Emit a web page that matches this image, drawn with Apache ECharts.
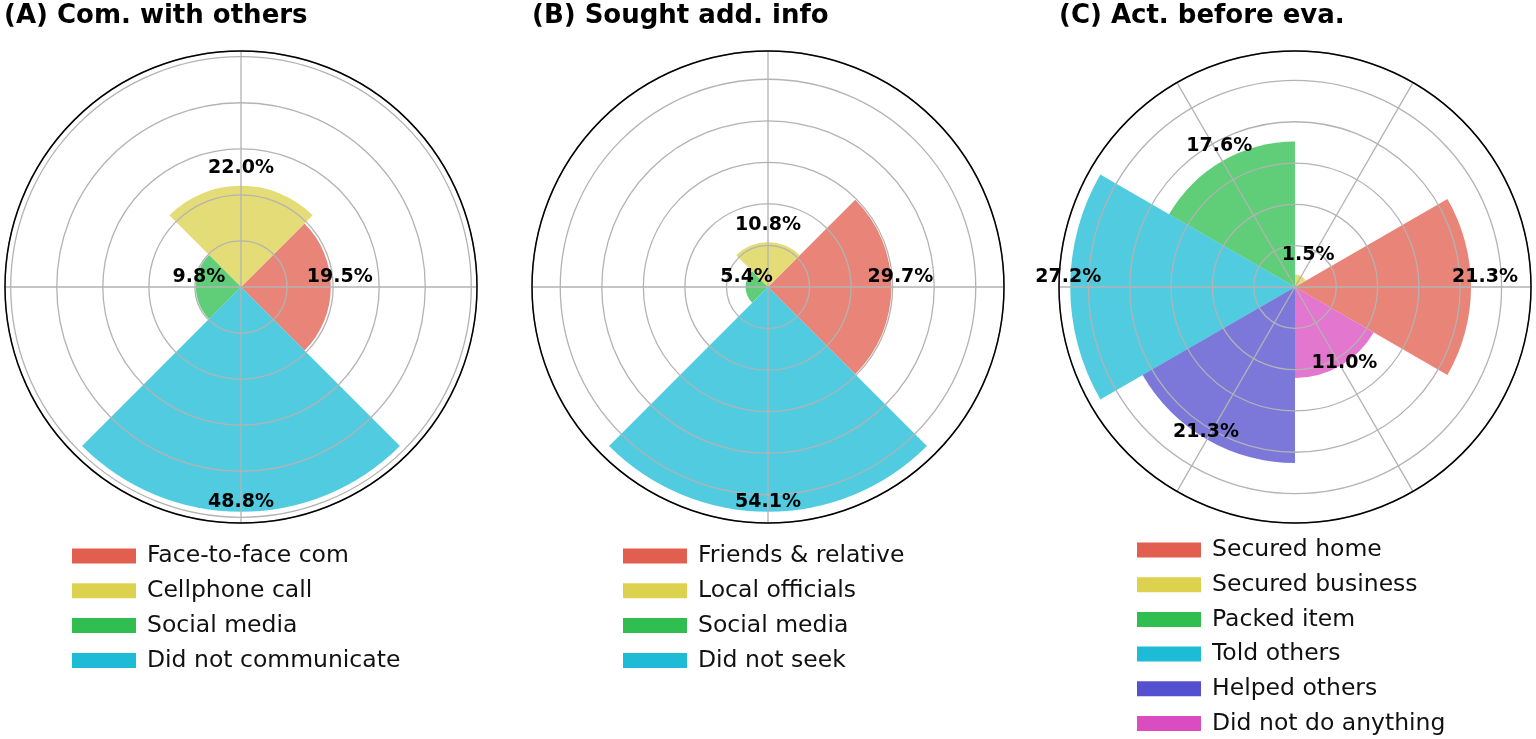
<!DOCTYPE html>
<html lang="en">
<head>
  <meta charset="UTF-8">
  <title>polar bars</title>
  <script src="https://cdn.jsdelivr.net/npm/echarts@6/dist/echarts.min.js"></script>
  <style>
    html, body { margin: 0; padding: 0; background: #fff; }
    #main { width: 1536px; height: 739px; }
  </style>
</head>
<body>
<div id="main"></div>
<script type="text/javascript">
  // panel A - Com. with others
  var catA = ['Face-to-face com', 'Cellphone call', 'Social media', 'Did not communicate'];
  var valA = [19.5, 22.0, 9.8, 48.8];
  // panel B - Sought add. info
  var catB = ['Friends & relative', 'Local officials', 'Social media', 'Did not seek'];
  var valB = [29.7, 10.8, 5.4, 54.1];
  // panel C - Act. before eva.
  var catC = ['Secured home', 'Secured business', 'Packed item', 'Told others', 'Helped others', 'Did not do anything'];
  var valC = [21.3, 1.5, 17.6, 27.2, 21.3, 11.0];

  // legend colours (solid) and bar colours (same, lighter)
  var solidC = ['#E25F4F', '#DCD24E', '#30BE50', '#1DBBD6', '#5450CF', '#DA4DC0'];
  var barC = ['rgba(226,95,79,0.77)', 'rgba(220,210,78,0.77)', 'rgba(48,190,80,0.77)',
              'rgba(29,187,214,0.77)', 'rgba(84,80,207,0.77)', 'rgba(218,77,192,0.77)'];

  var panels = [
    {title: '(A) Com. with others', cats: catA, vals: valA, max: 51.24, step: 10, spoke: 90,
      center: [241, 287], titleLeft: 4, legendLeft: 72, legendTop: 544, legendGap: 10.8, dist: [9, 8, -3, 0]},
    {title: '(B) Sought add. info', cats: catB, vals: valB, max: 56.8, step: 10, spoke: 90,
      center: [768, 287], titleLeft: 532, legendLeft: 623, legendTop: 544, legendGap: 10.8, dist: [9, 8, -1, 0]},
    {title: '(C) Act. before eva.', cats: catC, vals: valC, max: 28.56, step: 5, spoke: 60,
      center: [1295, 287], titleLeft: 1059, legendLeft: 1137, legendTop: 538, legendGap: 10.7, dist: [14, 14, 6, 2, 2, 8]}
  ];

  var FONT = 'DejaVu Sans';
  var GRID = {color: '#b3b3b3', width: 1.3};
  var option = {
    backgroundColor: '#fff',
    animation: false,
    title: [], legend: [], polar: [], angleAxis: [], radiusAxis: [], series: []
  };

  var n = panels.length;
  // polars 0..2 hold the bars, polars 3..5 draw the grid on top of them
  panels.forEach(function (p, k) {
    option.polar[k] = {center: p.center, radius: 236};
    option.polar[k + n] = {center: p.center, radius: 236};

    option.angleAxis[k] = {
      polarIndex: k, type: 'category', data: p.cats, boundaryGap: false,
      startAngle: 0, clockwise: false,
      axisLine: {show: false}, axisTick: {show: false}, axisLabel: {show: false}, splitLine: {show: false}
    };
    option.radiusAxis[k] = {
      polarIndex: k, type: 'value', min: 0, max: p.max,
      axisLine: {show: false}, axisTick: {show: false}, axisLabel: {show: false}, splitLine: {show: false}
    };
    option.angleAxis[k + n] = {
      polarIndex: k + n, type: 'value', min: 0, max: 360, interval: p.spoke,
      startAngle: 0, clockwise: false, z: 3,
      axisLine: {show: true, lineStyle: {color: '#000', width: 1.5}},
      axisTick: {show: false}, axisLabel: {show: false},
      splitLine: {show: true, lineStyle: GRID}
    };
    option.radiusAxis[k + n] = {
      polarIndex: k + n, type: 'value', min: 0, max: p.max, interval: p.step, z: 3,
      axisLine: {show: false}, axisTick: {show: false}, axisLabel: {show: false},
      splitLine: {show: true, lineStyle: GRID}
    };

    option.title.push({
      text: p.title, left: p.titleLeft, top: 3, padding: 0,
      textStyle: {fontFamily: FONT, fontSize: 26, fontWeight: 'bold', color: '#000'}
    });
    option.legend.push({
      data: p.cats.map(function (c, i) { return {name: c, itemStyle: {color: solidC[i]}}; }),
      orient: 'vertical', left: p.legendLeft, top: p.legendTop, height: 215, padding: 0,
      itemWidth: 64, itemHeight: 15, itemGap: p.legendGap, selectedMode: false, icon: 'rect',
      textStyle: {fontFamily: FONT, fontSize: 23.5, color: '#111', lineHeight: 22, padding: [0, 0, 0, 6]}
    });

    // coloured bars, one series per category so the legend can list them
    p.cats.forEach(function (name, i) {
      option.series.push({
        name: name, type: 'bar', coordinateSystem: 'polar', polarIndex: k,
        stack: 'p' + k, barCategoryGap: '0%', barGap: '-100%',
        data: p.cats.map(function (c, j) { return j === i ? p.vals[i] : '-'; }),
        itemStyle: {color: barC[i]}
      });
    });
    // transparent copy carrying the value labels above the grid
    option.series.push({
      name: 'labels' + k, type: 'bar', coordinateSystem: 'polar', polarIndex: k,
      barCategoryGap: '0%', barGap: '-100%', z: 4, silent: true,
      itemStyle: {color: 'rgba(0,0,0,0)'},
      data: p.vals.map(function (v, i) { return {value: v, label: {distance: p.dist[i]}}; }),
      label: {
        show: true, position: 'end', rotate: 0,
        fontFamily: FONT, fontSize: 19, fontWeight: 'bold', color: '#000',
        formatter: function (d) { return d.value.toFixed(1) + '%'; }
      }
    });
  });

  var chart = echarts.init(document.getElementById('main'));
  chart.setOption(option);
</script>
</body>
</html>
